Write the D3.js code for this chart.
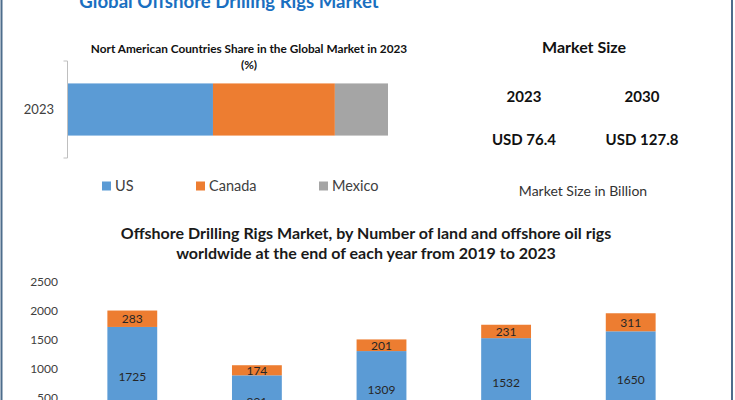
<!DOCTYPE html>
<html>
<head>
<meta charset="utf-8">
<script src="https://cdn.jsdelivr.net/npm/d3@7"></script>
<style>
  html, body { margin: 0; padding: 0; background: #fff; }
  svg { display: block; font-family: Lato, "Open Sans", sans-serif; }
</style>
</head>
<body>
<svg id="chart" width="735" height="400"></svg>
<script>
// ---- Data ----
const shareYear = ["2023"];
const shareCountries = ["US", "Canada", "Mexico"];
const shareValues = [45.3, 38.1, 16.6];

const marketYears = ["2023", "2030"];
const marketValues = ["USD 76.4", "USD 127.8"];

const rigYears = ["2019", "2020", "2021", "2022", "2023"];
const rigSeriesNames = ["Land", "Offshore"];
const rigLand = [1725, 891, 1309, 1532, 1650];
const rigOffshore = [283, 174, 201, 231, 311];
const rigTicks = [500, 1000, 1500, 2000, 2500];

const colors = ["#5b9bd5", "#ed7d31", "#a5a5a5"];

const svg = d3.select("#chart");

// Frame (left/right edges visible)
svg.append("line").attr("x1", 1.5).attr("x2", 1.5).attr("y1", 0).attr("y2", 400)
  .attr("stroke", "#4d6d8c").attr("stroke-width", 2);
svg.append("line").attr("x1", 732).attr("x2", 732).attr("y1", 0).attr("y2", 400)
  .attr("stroke", "#4d6d8c").attr("stroke-width", 2);

// Main title (cropped at top, as in the reference)
svg.append("text").attr("x", 229).attr("y", 8).attr("text-anchor", "middle")
  .attr("font-size", 18.6).attr("font-weight", 700).attr("fill", "#1a6fc0")
  .text("Global Offshore Drilling Rigs Market");

// ---- Top-left: share chart ----
svg.append("text").attr("x", 249).attr("y", 53).attr("text-anchor", "middle")
  .attr("font-size", 11.8).attr("font-weight", 700).attr("fill", "#111")
  .text("Nort American Countries Share in the Global Market in 2023");
svg.append("text").attr("x", 249).attr("y", 69).attr("text-anchor", "middle")
  .attr("font-size", 11.8).attr("font-weight", 700).attr("fill", "#111")
  .text("(%)");

const sx = d3.scaleLinear().domain([0, d3.sum(shareValues)]).range([68, 388]);
const sy = d3.scaleBand().domain(shareYear).range([61, 158]).paddingInner(0).paddingOuter(0.43);

const yAxisTop = d3.axisLeft(sy).tickSize(0).tickPadding(13);
const gTop = svg.append("g").attr("transform", "translate(67,0)").call(yAxisTop);
gTop.select(".domain").remove();
gTop.selectAll("text").attr("font-size", 13).attr("fill", "#404040").attr("font-family", "Lato, sans-serif");
// bracket axis line
svg.append("path")
  .attr("d", `M63.5,${sy.range()[0]}H67.5V${sy.range()[1]}H63.5`)
  .attr("fill", "none").attr("stroke", "#bfbfbf").attr("stroke-width", 1);

let cum = 0;
const stacks = shareValues.map((v, i) => { const s = { x0: cum, x1: cum + v, i }; cum += v; return s; });
svg.append("g").selectAll("rect").data(stacks).join("rect")
  .attr("x", d => sx(d.x0)).attr("width", d => sx(d.x1) - sx(d.x0))
  .attr("y", sy("2023")).attr("height", sy.bandwidth())
  .attr("fill", d => colors[d.i]);

// legend
const legendX = [102, 196, 319];
const lg = svg.append("g").selectAll("g").data(shareCountries).join("g")
  .attr("transform", (d, i) => `translate(${legendX[i]},186)`);
lg.append("rect").attr("x", 0).attr("y", -4.5).attr("width", 9).attr("height", 9)
  .attr("fill", (d, i) => colors[i]);
lg.append("text").attr("x", 13).attr("y", 5).attr("font-size", 14.5).attr("fill", "#404040").text(d => d);

// ---- Top-right: market size ----
svg.append("text").attr("x", 584).attr("y", 53).attr("text-anchor", "middle")
  .attr("font-size", 16).attr("font-weight", 700).attr("fill", "#111").text("Market Size");
const mx = d3.scalePoint().domain(marketYears).range([524, 642]);
svg.append("g").selectAll("text").data(marketYears).join("text")
  .attr("x", d => mx(d)).attr("y", 102).attr("text-anchor", "middle")
  .attr("font-size", 15).attr("font-weight", 700).attr("fill", "#111").text(d => d);
svg.append("g").selectAll("text").data(marketValues).join("text")
  .attr("x", (d, i) => mx(marketYears[i])).attr("y", 145).attr("text-anchor", "middle")
  .attr("font-size", 15).attr("font-weight", 700).attr("fill", "#111").text(d => d);
svg.append("text").attr("x", 583).attr("y", 196).attr("text-anchor", "middle")
  .attr("font-size", 14).attr("fill", "#333").text("Market Size in Billion");

// ---- Bottom: rigs chart ----
svg.append("text").attr("x", 366).attr("y", 239).attr("text-anchor", "middle")
  .attr("font-size", 16).attr("font-weight", 700).attr("fill", "#1a1a1a")
  .text("Offshore Drilling Rigs Market, by Number of land and offshore oil rigs");
svg.append("text").attr("x", 366).attr("y", 259).attr("text-anchor", "middle")
  .attr("font-size", 16).attr("font-weight", 700).attr("fill", "#1a1a1a")
  .text("worldwide at the end of each year from 2019 to 2023");

const bx = d3.scaleBand().domain(rigYears).range([70, 693]).paddingInner(0.6).paddingOuter(0.3);
const by = d3.scaleLinear().domain([0, 2500]).range([427, 282]);

const yAxis = d3.axisLeft(by).tickValues(rigTicks).tickFormat(d3.format("d")).tickSize(0).tickPadding(0);
const gy = svg.append("g").attr("transform", "translate(58,0)").call(yAxis);
gy.select(".domain").remove();
gy.selectAll("text").attr("font-size", 12).attr("fill", "#404040").attr("font-family", "Lato, sans-serif");

const rigData = rigYears.map((y, i) => ({ year: y, land: rigLand[i], off: rigOffshore[i] }));
const stack = d3.stack().keys(["land", "off"])(rigData);

const layers = svg.append("g").selectAll("g").data(stack).join("g")
  .attr("fill", (d, i) => colors[i]);
layers.selectAll("rect").data(d => d).join("rect")
  .attr("x", d => bx(d.data.year)).attr("width", bx.bandwidth())
  .attr("y", d => by(d[1])).attr("height", d => by(d[0]) - by(d[1]));

layers.each(function(layer) {
  d3.select(this).selectAll("text").data(layer).join("text")
    .attr("x", d => bx(d.data.year) + bx.bandwidth() / 2)
    .attr("y", d => (by(d[0]) + by(d[1])) / 2 + 4.5)
    .attr("text-anchor", "middle").attr("font-size", 12).attr("fill", "#262626")
    .text(d => d[1] - d[0]);
});
</script>
</body>
</html>
